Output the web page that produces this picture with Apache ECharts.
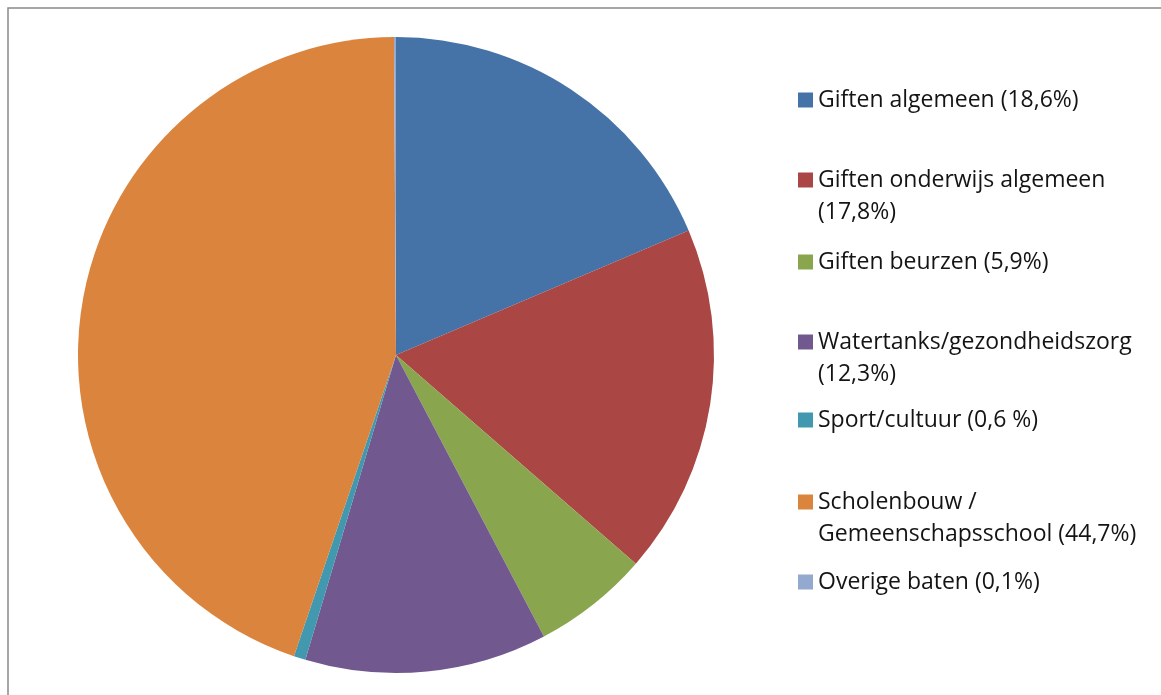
<!DOCTYPE html>
<html>
<head>
<meta charset="utf-8">
<script src="https://cdn.jsdelivr.net/npm/echarts@6/dist/echarts.min.js"></script>
<style>html,body{margin:0;padding:0;background:#fff}#c{width:1161px;height:695px}</style>
</head>
<body>
<div id="c"></div>
<script>
const categories = [
  'Giften algemeen (18,6%)',
  'Giften onderwijs algemeen (17,8%)',
  'Giften beurzen (5,9%)',
  'Watertanks/gezondheidszorg (12,3%)',
  'Sport/cultuur (0,6 %)',
  'Scholenbouw / Gemeenschapsschool (44,7%)',
  'Overige baten (0,1%)'
];
const values = [18.6, 17.8, 5.9, 12.3, 0.6, 44.7, 0.1];
const legendLines = [
  ['Giften algemeen (18,6%)'],
  ['Giften onderwijs algemeen', '(17,8%)'],
  ['Giften beurzen (5,9%)'],
  ['Watertanks/gezondheidszorg', '(12,3%)'],
  ['Sport/cultuur (0,6 %)'],
  ['Scholenbouw /', 'Gemeenschapsschool (44,7%)'],
  ['Overige baten (0,1%)']
];
const colors = ['#4572A7', '#AA4643', '#89A54E', '#71588F', '#4198AF', '#DB843D', '#93A9CF'];

// layout: first-line centre of each legend entry
const legendCentres = [100, 180, 262, 342, 420, 502, 582];
const LH = 32;
const FONT = 'Open Sans';
const FS = 23;

const legends = categories.map((name, i) => {
  const lines = legendLines[i];
  const twoLine = lines.length > 1;
  const text = twoLine
    ? '{e| }\n{t|' + lines[0] + '}\n{t|' + lines[1] + '}'
    : '{t|' + lines[0] + '}';
  return {
    data: [name],
    orient: 'vertical',
    left: 798,
    top: twoLine ? legendCentres[i] - 1.5 * LH : legendCentres[i] - LH / 2,
    padding: 0,
    itemWidth: 15,
    itemHeight: 15,
    icon: 'rect',
    selectedMode: false,
    formatter: () => text,
    textStyle: {
      fontFamily: FONT,
      fontSize: FS,
      color: '#141414',
      lineHeight: LH,
      rich: {
        t: {fontFamily: FONT, fontSize: FS, color: '#141414', lineHeight: LH},
        e: {fontFamily: FONT, fontSize: FS, lineHeight: LH}
      }
    }
  };
});

const chart = echarts.init(document.getElementById('c'), null, {renderer: 'canvas'});
chart.setOption({
  animation: false,
  color: colors,
  legend: legends,
  graphic: [{
    type: 'rect',
    shape: {x: 8, y: 8, width: 1170, height: 710},
    style: {fill: 'none', stroke: '#898989', lineWidth: 1.5},
    silent: true
  }],
  series: [{
    type: 'pie',
    center: [396, 355],
    radius: [0, 318],
    startAngle: 90,
    clockwise: true,
    label: {show: false},
    labelLine: {show: false},
    emphasis: {disabled: true},
    itemStyle: {borderWidth: 0},
    data: categories.map((n, i) => ({name: n, value: values[i]}))
  }]
});
</script>
</body>
</html>
